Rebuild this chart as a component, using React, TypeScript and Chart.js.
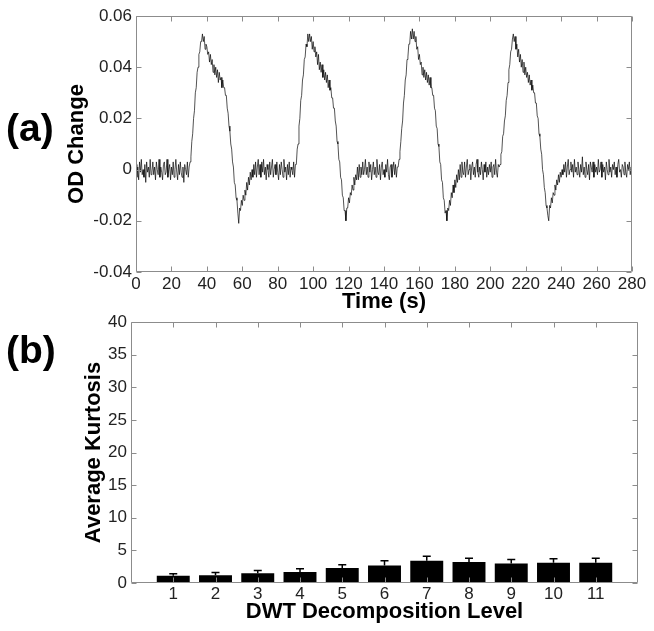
import React, { useEffect, useRef } from 'react';
import { Chart, registerables } from 'chart.js';

Chart.register(...registerables);

const FONT = "'Liberation Sans', Arial, sans-serif";

// ---------- Panel (a): OD change time course ----------
const sampleIntervalS = 0.5;
// OD change, in thousandths (two samples per second, t = 0 .. 280 s)
const odChangeMilli = [
  2, -3, 1, -4, 3, -1, 4, -2, 0, -3, 2, -5, 3, -1, 1, -3, 4, -2, -1, 3,
  -2, 1, -4, 3, 0, -2, 4, -3, 1, -1, -4, 2, 3, -2, -1, 4, -3, 0, 2, -4,
  1, -2, 3, -3, 0, 4, -1, -4, 2, -2, 3, -1, -3, 1, -5, 2, 0, -2, 3, -3,
  1, 3, 5, 11, 14, 20, 23, 30, 32, 38, 40, 45, 46, 50, 50, 53, 50, 52, 47, 49,
  48, 45, 46, 42, 45, 41, 43, 38, 41, 37, 40, 36, 39, 34, 38, 35, 36, 32, 35, 32,
  32, 29, 29, 24, 22, 17, 15, 10, 8, 3, 1, -5, -6, -11, -12, -17, -21, -15, -16, -12,
  -14, -10, -12, -8, -10, -5, -8, -3, -6, -1, -4, 0, -3, 2, -2, 3, -3, 1, 4, -2,
  2, -3, 3, -1, 4, -2, 1, -4, 2, 0, -3, 3, -2, 1, 4, -3, 0, 2, -2, 3,
  -1, -4, 2, -2, 3, 0, -3, 4, -1, 1, -4, 2, -2, 3, -3, 1, 0, -2, 3, -3,
  2, 2, 8, 10, 17, 20, 27, 29, 35, 37, 43, 44, 49, 48, 53, 50, 53, 50, 52, 47,
  50, 46, 48, 44, 46, 41, 45, 39, 42, 38, 41, 36, 39, 35, 38, 34, 37, 32, 35, 31,
  32, 28, 28, 24, 24, 19, 17, 11, 10, 4, 3, -3, -4, -10, -11, -16, -16, -20, -15, -15,
  -11, -13, -9, -10, -6, -8, -3, -6, -2, -4, 1, -4, 2, -3, 1, -2, 3, -2, 0, 4,
  -2, 1, -3, 3, -1, 2, -4, 0, 3, -2, 1, -3, 4, -1, -2, 2, -4, 1, 3, -2,
  0, -3, 2, -1, 4, -2, -4, 1, 2, -3, 0, 3, -2, 2, -3, 1, 1, 4, 7, 11,
  16, 19, 26, 29, 35, 37, 43, 44, 49, 49, 54, 51, 55, 51, 54, 50, 52, 47, 48, 43,
  45, 41, 42, 37, 40, 36, 39, 35, 38, 34, 37, 33, 36, 32, 32, 29, 29, 24, 23, 17,
  16, 10, 9, 3, 2, -4, -5, -11, -12, -17, -16, -20, -15, -16, -12, -14, -9, -11, -6, -9,
  -4, -7, -2, -5, 0, -4, 2, -3, 3, -1, -2, 3, -3, 1, 4, -2, 0, 2, -4, 1,
  3, -2, 1, -3, 2, 4, -1, -3, 1, -2, 3, 0, -4, 2, -1, 3, -3, 1, -2, 2,
  -1, 3, -3, 1, 2, -2, 4, -1, -3, 2, 1, 2, 6, 7, 13, 14, 19, 21, 27, 29,
  34, 39, 41, 46, 47, 51, 53, 50, 52, 47, 49, 44, 47, 42, 45, 40, 43, 38, 42, 37,
  40, 36, 38, 34, 37, 33, 35, 31, 33, 30, 30, 26, 26, 21, 20, 14, 13, 8, 6, 0,
  -2, -7, -9, -14, -15, -18, -20, -14, -15, -11, -13, -9, -10, -6, -8, -4, -6, -2, -5, -1,
  -3, 0, -2, 2, -1, 3, -3, 1, 4, -2, 0, 3, -1, 2, -3, 4, -1, 1, -2, 3,
  0, -3, 2, -1, 5, -2, 1, -3, 3, 0, -2, 2, -4, 3, 1, -1, 3, -3, 2, -1,
  1, -2, 4, -1, 0, 3, -3, 2, -1, 1, -4, 3, 0, -2, 4, -1, 1, -3, 2, 0,
  3, -2, 1, -3, 2, 4, -1, 0, -3, 2, 1, -2, 3, -1, -3, 2, 0, 3, -2, 1,
  0,
];
const timeTicks = [0, 20, 40, 60, 80, 100, 120, 140, 160, 180, 200, 220, 240, 260, 280];
const odTicks = [-0.04, -0.02, 0, 0.02, 0.04, 0.06];
const odTickLabels = ['-0.04', '-0.02', '0', '0.02', '0.04', '0.06'];

// ---------- Panel (b): average kurtosis per DWT level ----------
const levels = [1, 2, 3, 4, 5, 6, 7, 8, 9, 10, 11];
const kurtosisMean = [1.1, 1.2, 1.5, 1.7, 2.3, 2.7, 3.4, 3.2, 3.0, 3.1, 3.1];
const kurtosisErr = [0.3, 0.4, 0.4, 0.5, 0.5, 0.7, 0.7, 0.6, 0.6, 0.6, 0.7];
const kurtosisTicks = [0, 5, 10, 15, 20, 25, 30, 35, 40];

const boxTicksPlugin = {
  id: 'boxTicks',
  afterDraw(chart: any, _args: any, opts: any) {
    const { ctx, chartArea } = chart;
    const { left, right, top, bottom } = chartArea;
    const len = opts.len ?? 5;
    ctx.save();
    ctx.strokeStyle = opts.color ?? '#8c8c8c';
    ctx.lineWidth = 1;
    const L = Math.round(left) + 0.5;
    const R = Math.round(right) - 0.5;
    const T = Math.round(top) + 0.5;
    const B = Math.round(bottom) - 0.5;
    ctx.beginPath();
    ctx.rect(L, T, R - L, B - T);
    const xs = chart.scales.x;
    xs.ticks.forEach((_t: any, i: number) => {
      const px = Math.round(xs.getPixelForTick(i)) + 0.5;
      ctx.moveTo(px, B);
      ctx.lineTo(px, B - len);
      ctx.moveTo(px, T);
      ctx.lineTo(px, T + len);
    });
    const ys = chart.scales.y;
    ys.ticks.forEach((_t: any, i: number) => {
      const py = Math.round(ys.getPixelForTick(i)) + 0.5;
      ctx.moveTo(L, py);
      ctx.lineTo(L + len, py);
      ctx.moveTo(R, py);
      ctx.lineTo(R - len, py);
    });
    ctx.stroke();
    ctx.restore();
  },
};

const errorBarPlugin = {
  id: 'errorBars',
  afterDatasetsDraw(chart: any, _args: any, opts: any) {
    if (!opts || !opts.errors) return;
    const { ctx } = chart;
    const meta = chart.getDatasetMeta(0);
    const ys = chart.scales.y;
    ctx.save();
    ctx.strokeStyle = '#000';
    ctx.lineWidth = 1.5;
    meta.data.forEach((bar: any, i: number) => {
      const v = opts.values[i];
      const e = opts.errors[i];
      const y0 = ys.getPixelForValue(v);
      const y1 = ys.getPixelForValue(v + e);
      const x = bar.x;
      ctx.beginPath();
      ctx.moveTo(x, y0);
      ctx.lineTo(x, y1);
      ctx.moveTo(x - 4, y1);
      ctx.lineTo(x + 4, y1);
      ctx.stroke();
    });
    ctx.restore();
  },
};

function TimeCourse() {
  const ref = useRef<HTMLCanvasElement>(null);
  useEffect(() => {
    const points = odChangeMilli.map((v, i) => ({ x: i * sampleIntervalS, y: v / 1000 }));
    const chart = new Chart(ref.current as HTMLCanvasElement, {
      type: 'line',
      data: {
        datasets: [
          {
            data: points,
            borderColor: 'rgba(0,0,0,0.85)',
            borderWidth: 0.8,
            pointRadius: 0,
            tension: 0,
            fill: false,
          },
        ],
      },
      options: {
        animation: false,
        responsive: false,
        layout: { padding: { left: 0, right: 22, top: 16, bottom: 0 } },
        plugins: {
          legend: { display: false },
          tooltip: { enabled: false },
          boxTicks: { color: '#8c8c8c', len: 5 },
        } as any,
        scales: {
          x: {
            type: 'linear',
            min: 0,
            max: 280,
            afterBuildTicks: (s: any) => {
              s.ticks = timeTicks.map((value) => ({ value }));
            },
            afterFit: (s: any) => {
              s.height = 48;
              s.paddingLeft = 0;
              s.paddingRight = 0;
            },
            grid: { display: false, drawTicks: false },
            border: { display: false },
            ticks: {
              color: '#222',
              font: { size: 17, family: FONT },
              padding: 2,
              maxRotation: 0,
              autoSkip: false,
              callback: (_v: any, i: number) => String(timeTicks[i]),
            },
            title: {
              display: true,
              text: 'Time (s)',
              color: '#000',
              font: { size: 22, weight: 'bold', family: FONT },
              padding: { top: 0, bottom: 5 },
            },
          },
          y: {
            type: 'linear',
            min: -0.04,
            max: 0.06,
            afterBuildTicks: (s: any) => {
              s.ticks = odTicks.map((value) => ({ value }));
            },
            afterFit: (s: any) => {
              s.width = 136;
              s.paddingTop = 0;
              s.paddingBottom = 0;
            },
            grid: { display: false, drawTicks: false },
            border: { display: false },
            ticks: {
              color: '#222',
              font: { size: 17, family: FONT },
              padding: 4,
              callback: (_v: any, i: number) => odTickLabels[i],
            },
            title: {
              display: true,
              text: 'OD Change',
              color: '#000',
              font: { size: 22, weight: 'bold', family: FONT },
              padding: { top: 64, bottom: 0 },
            },
          },
        },
      } as any,
      plugins: [boxTicksPlugin],
    });
    return () => chart.destroy();
  }, []);
  return (
    <canvas
      ref={ref}
      width={654}
      height={320}
      style={{ position: 'absolute', left: 0, top: 0, width: 654, height: 320 }}
    />
  );
}

function KurtosisBars() {
  const ref = useRef<HTMLCanvasElement>(null);
  useEffect(() => {
    const chart = new Chart(ref.current as HTMLCanvasElement, {
      type: 'bar',
      data: {
        datasets: [
          {
            data: levels.map((l, i) => ({ x: l, y: kurtosisMean[i] })),
            backgroundColor: '#000',
            borderWidth: 0,
            barPercentage: 0.78,
            categoryPercentage: 1,
          },
        ],
      },
      options: {
        animation: false,
        responsive: false,
        layout: { padding: { left: 0, right: 16, top: 22, bottom: 0 } },
        plugins: {
          legend: { display: false },
          tooltip: { enabled: false },
          boxTicks: { color: '#8c8c8c', len: 5 },
          errorBars: { values: kurtosisMean, errors: kurtosisErr },
        } as any,
        scales: {
          x: {
            type: 'linear',
            min: 0,
            max: 12,
            offset: false,
            afterBuildTicks: (s: any) => {
              s.ticks = levels.map((value) => ({ value }));
            },
            afterFit: (s: any) => {
              s.height = 48;
              s.paddingLeft = 0;
              s.paddingRight = 0;
            },
            grid: { display: false, drawTicks: false },
            border: { display: false },
            ticks: {
              color: '#222',
              font: { size: 17, family: FONT },
              padding: 1,
              maxRotation: 0,
              autoSkip: false,
              callback: (_v: any, i: number) => String(levels[i]),
            },
            title: {
              display: true,
              text: 'DWT Decomposition Level',
              color: '#000',
              font: { size: 22, weight: 'bold', family: FONT },
              padding: { top: 0, bottom: 6 },
            },
          },
          y: {
            type: 'linear',
            min: 0,
            max: 40,
            afterBuildTicks: (s: any) => {
              s.ticks = kurtosisTicks.map((value) => ({ value }));
            },
            afterFit: (s: any) => {
              s.width = 131;
              s.paddingTop = 0;
              s.paddingBottom = 0;
            },
            grid: { display: false, drawTicks: false },
            border: { display: false },
            ticks: {
              color: '#222',
              font: { size: 17, family: FONT },
              padding: 4,
              callback: (_v: any, i: number) => String(kurtosisTicks[i]),
            },
            title: {
              display: true,
              text: 'Average Kurtosis',
              color: '#000',
              font: { size: 22, weight: 'bold', family: FONT },
              padding: { top: 81, bottom: 0 },
            },
          },
        },
      } as any,
      plugins: [errorBarPlugin, boxTicksPlugin],
    });
    return () => chart.destroy();
  }, []);
  return (
    <canvas
      ref={ref}
      width={654}
      height={331}
      style={{ position: 'absolute', left: 0, top: 300, width: 654, height: 331 }}
    />
  );
}

const panelLabelStyle: React.CSSProperties = {
  position: 'absolute',
  left: 6,
  fontFamily: FONT,
  fontWeight: 'bold',
  fontSize: 39,
  lineHeight: '44px',
  color: '#000',
};

export default function App() {
  return (
    <div
      style={{
        position: 'absolute',
        left: 0,
        top: 0,
        width: 654,
        height: 631,
        background: '#fff',
        overflow: 'hidden',
      }}
    >
      <TimeCourse />
      <KurtosisBars />
      <div style={{ ...panelLabelStyle, top: 106 }}>(a)</div>
      <div style={{ ...panelLabelStyle, top: 328 }}>(b)</div>
    </div>
  );
}
